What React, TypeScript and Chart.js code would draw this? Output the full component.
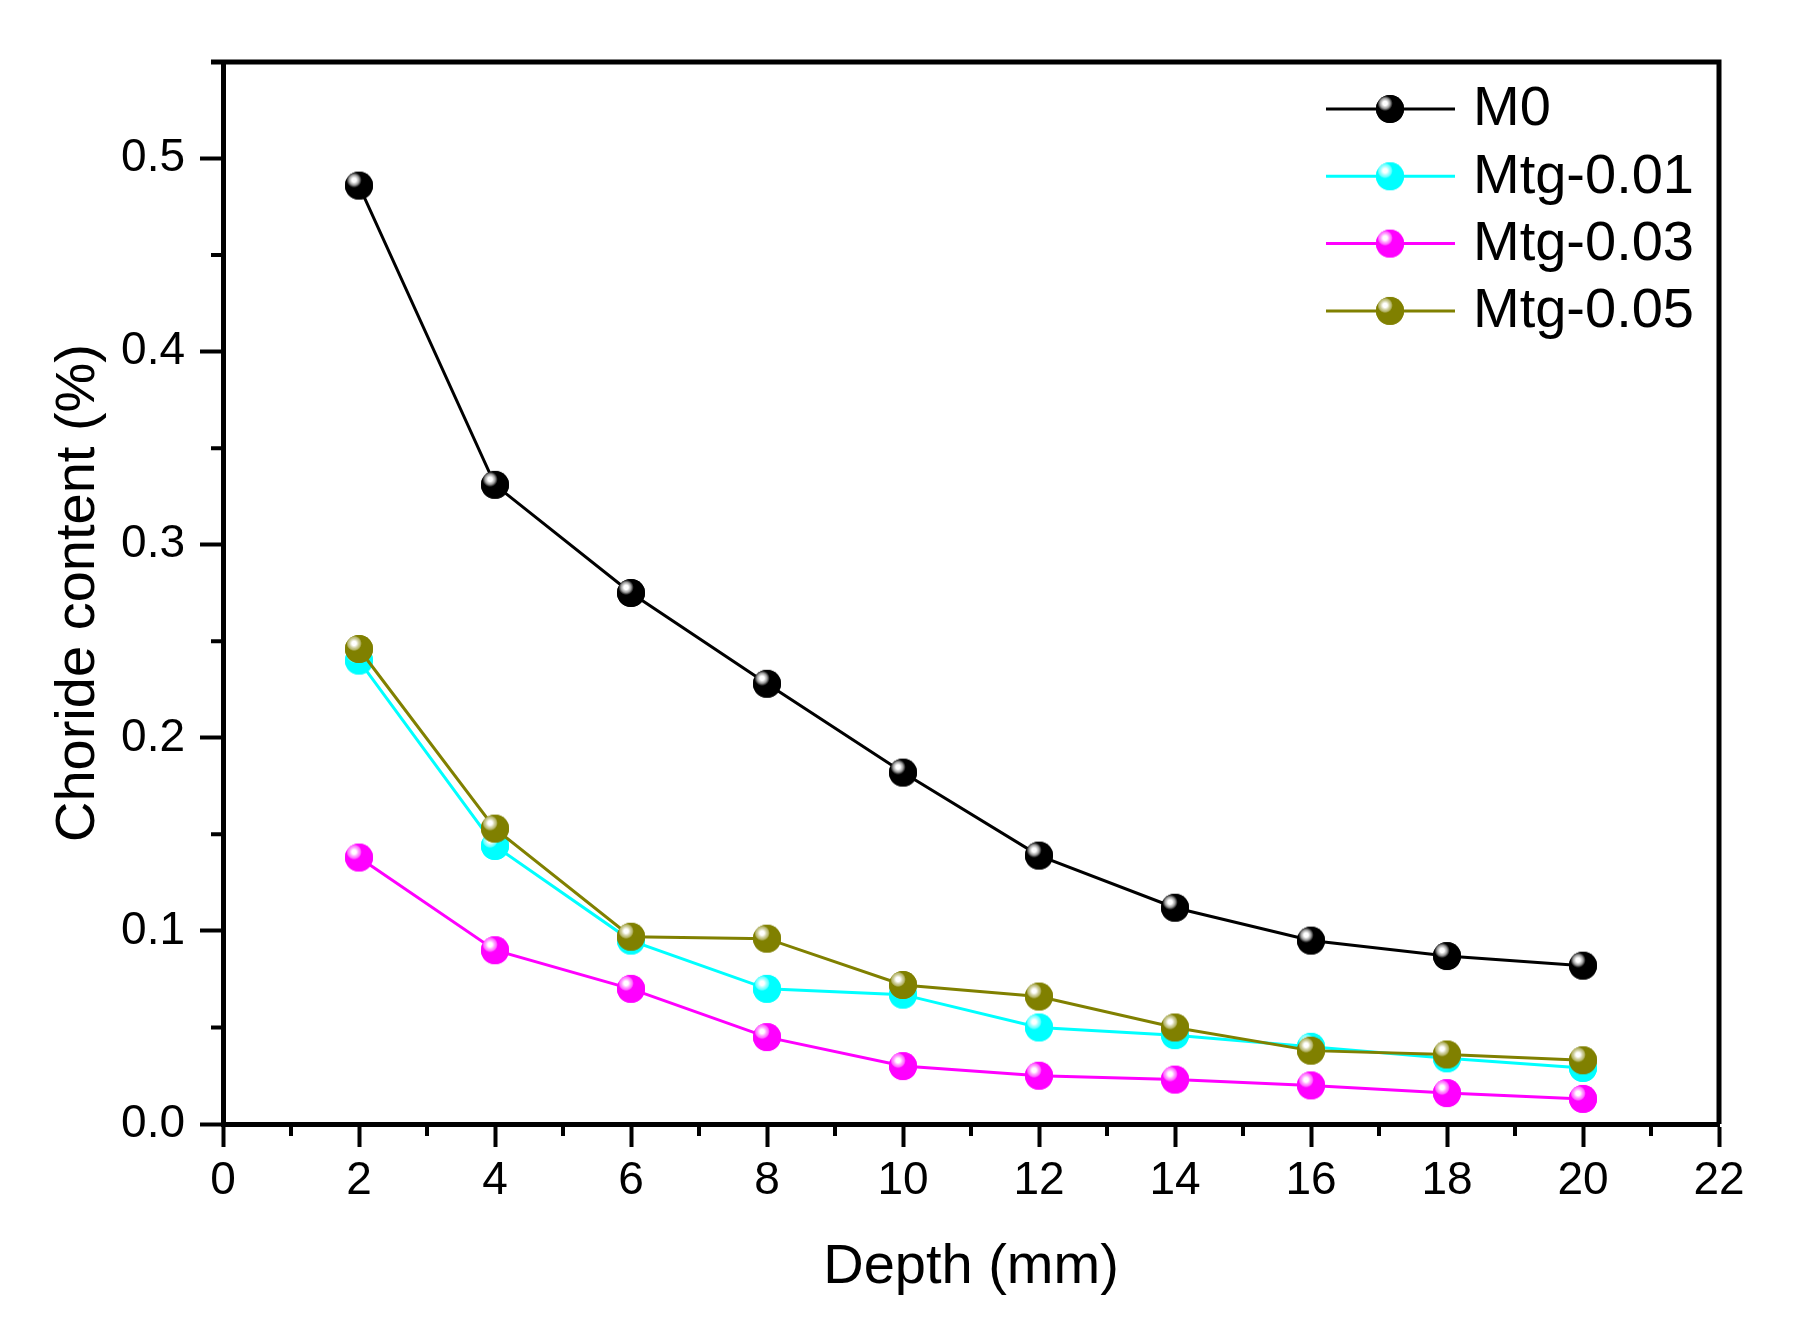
// App.tsx
import React, { useEffect, useRef } from "react";
import { Chart, registerables } from "chart.js";

Chart.register(...registerables);

const depth = [2, 4, 6, 8, 10, 12, 14, 16, 18, 20];
const m0 = [0.486, 0.331, 0.275, 0.228, 0.182, 0.139, 0.112, 0.095, 0.087, 0.082];
const mtg001 = [0.24, 0.144, 0.095, 0.07, 0.067, 0.05, 0.046, 0.04, 0.034, 0.029];
const mtg003 = [0.138, 0.09, 0.07, 0.045, 0.03, 0.025, 0.023, 0.02, 0.016, 0.013];
const mtg005 = [0.246, 0.153, 0.097, 0.096, 0.072, 0.066, 0.05, 0.038, 0.036, 0.033];

const seriesNames = ["M0", "Mtg-0.01", "Mtg-0.03", "Mtg-0.05"];
const seriesValues = [m0, mtg001, mtg003, mtg005];
const seriesColors = ["#000000", "#00ffff", "#ff00ff", "#808000"];
const xMinorTicks = [1, 3, 5, 7, 9, 11, 13, 15, 17, 19, 21];
const yMinorTicks = [0.05, 0.15, 0.25, 0.35, 0.45, 0.55];

const FONT = "'Liberation Sans', Arial, sans-serif";

// little shaded ball used as marker
function makeBall(color: string, r: number): HTMLCanvasElement {
  const c = document.createElement("canvas");
  c.width = r * 2 + 2;
  c.height = r * 2 + 2;
  const g = c.getContext("2d")!;
  const cx = r + 1;
  const cy = r + 1;
  const dark = color === "#000000";
  const grad = g.createRadialGradient(cx - r * 0.35, cy - r * 0.4, 0, cx - r * 0.35, cy - r * 0.4, r * 1.3);
  grad.addColorStop(0, "#ffffff");
  grad.addColorStop(0.12, "#ffffff");
  grad.addColorStop(0.28, dark ? "#9a9a9a" : "rgba(255,255,255,0.55)");
  grad.addColorStop(0.42, color);
  grad.addColorStop(1, color);
  g.beginPath();
  g.arc(cx, cy, r, 0, Math.PI * 2);
  g.fillStyle = color;
  g.fill();
  g.fillStyle = grad;
  g.fill();
  return c;
}

const App: React.FC = () => {
  const chartRef = useRef<HTMLCanvasElement>(null);

  useEffect(() => {
    document.body.style.margin = "0";
    if (!chartRef.current) return;
    const ctx = chartRef.current.getContext("2d");
    if (!ctx) return;

    const balls = seriesColors.map((c) => makeBall(c, 14));
    const drawOrder = [3, 2, 1, 0];

    const frameAndLegend = {
      id: "frameAndLegend",
      afterDraw(chart: any) {
        const { ctx: g, chartArea: a, scales } = chart;
        g.save();
        g.strokeStyle = "#000";
        // top and right border
        g.lineWidth = 5;
        g.beginPath();
        g.moveTo(a.left - 12, a.top);
        g.lineTo(a.right, a.top);
        g.lineTo(a.right, a.bottom);
        g.stroke();
        // minor ticks
        g.lineWidth = 4;
        g.beginPath();
        xMinorTicks.forEach((v) => {
          const px = scales.x.getPixelForValue(v);
          g.moveTo(px, a.bottom);
          g.lineTo(px, a.bottom + 12);
        });
        yMinorTicks.forEach((v) => {
          const py = scales.y.getPixelForValue(v);
          g.moveTo(a.left, py);
          g.lineTo(a.left - 12, py);
        });
        g.stroke();
        // legend
        const lx0 = a.right - 393;
        const lx1 = a.right - 264;
        const mx = a.right - 329;
        const tx = a.right - 246;
        g.font = `56px ${FONT}`;
        g.textBaseline = "middle";
        g.textAlign = "left";
        seriesNames.forEach((name, i) => {
          const y = a.top + 47 + i * 67.3;
          g.strokeStyle = seriesColors[i];
          g.lineWidth = 3;
          g.beginPath();
          g.moveTo(lx0, y);
          g.lineTo(lx1, y);
          g.stroke();
          const b = balls[i];
          g.drawImage(b, mx - b.width / 2, y - b.height / 2);
          g.fillStyle = "#000";
          g.fillText(name, tx, y + 1);
        });
        g.restore();
      },
    };

    const chart = new Chart(ctx, {
      type: "line",
      data: {
        datasets: seriesNames.map((name, i) => ({
          label: name,
          data: depth.map((d, k) => ({ x: d, y: seriesValues[i][k] })),
          borderColor: seriesColors[i],
          backgroundColor: seriesColors[i],
          borderWidth: 3,
          pointStyle: balls[i] as any,
          pointRadius: 14,
          pointHoverRadius: 14,
          tension: 0,
          fill: false,
          order: drawOrder[i],
        })),
      },
      options: {
        responsive: false,
        animation: false,
        events: [],
        layout: { padding: { top: 62, right: 89, left: 0, bottom: 0 } },
        plugins: {
          legend: { display: false },
          tooltip: { enabled: false },
        },
        scales: {
          x: {
            type: "linear",
            min: 0,
            max: 22,
            afterFit: (axis: any) => {
              axis.height = 207;
            },
            ticks: {
              stepSize: 2,
              includeBounds: false,
              color: "#000",
              padding: 7,
              maxRotation: 0,
              font: { family: FONT, size: 46 },
            },
            grid: {
              drawOnChartArea: false,
              tickLength: 23,
              tickWidth: 4,
              tickColor: "#000",
            },
            border: { display: true, color: "#000", width: 5 },
            title: {
              display: true,
              text: "Depth (mm)",
              color: "#000",
              font: { family: FONT, size: 56 },
              padding: { top: 0, bottom: 30 },
            },
          },
          y: {
            type: "linear",
            min: 0,
            max: 0.55,
            afterFit: (axis: any) => {
              axis.width = 223;
            },
            ticks: {
              stepSize: 0.1,
              includeBounds: false,
              color: "#000",
              padding: 15,
              font: { family: FONT, size: 46 },
              callback: (v: any) => Number(v).toFixed(1),
            },
            grid: {
              drawOnChartArea: false,
              tickLength: 23,
              tickWidth: 4,
              tickColor: "#000",
            },
            border: { display: true, color: "#000", width: 5 },
            title: {
              display: true,
              text: "Choride content (%)",
              color: "#000",
              font: { family: FONT, size: 56 },
              padding: { top: 45, bottom: 0 },
            },
          },
        },
      },
      plugins: [frameAndLegend],
    });

    return () => {
      chart.destroy();
    };
  }, []);

  return <canvas ref={chartRef} width={1808} height={1331} style={{ display: "block" }} />;
};

export default App;
